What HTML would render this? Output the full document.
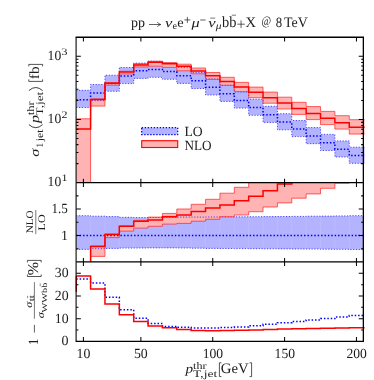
<!DOCTYPE html>
<html><head><meta charset="utf-8"><title>chart</title>
<style>html,body{margin:0;padding:0;background:#fff;}svg{will-change:transform;display:block;font-family:"Liberation Serif",serif;}</style>
</head><body>
<svg width="374" height="380" viewBox="0 0 374 380">
<rect width="374" height="380" fill="#fff"/>
<defs>
<clipPath id="c1"><rect x="76.25" y="37.3" width="288.4" height="145.35"/></clipPath>
<clipPath id="c2"><rect x="76.25" y="182.65" width="287.1" height="79.3"/></clipPath>
<clipPath id="c3"><rect x="75.25" y="261.95" width="289.4" height="79.4"/></clipPath>
</defs>
<g clip-path="url(#c1)">
<path d="M76.21 90.3L90.59 90.3L90.59 84.5L104.96 84.5L104.96 75.2L119.33 75.2L119.33 67.5L133.7 67.5L133.7 63.1L148.07 63.1L148.07 61.2L162.44 61.2L162.44 63.2L176.81 63.2L176.81 67.3L191.18 67.3L191.18 72.4L205.55 72.4L205.55 78.9L219.92 78.9L219.92 85.3L234.3 85.3L234.3 92L248.67 92L248.67 99.2L263.04 99.2L263.04 106.3L277.41 106.3L277.41 113.7L291.78 113.7L291.78 120.5L306.15 120.5L306.15 127.6L320.52 127.6L320.52 134.4L334.89 134.4L334.89 140.9L349.26 140.9L349.26 147.2L364.9 147.2L364.9 163.3L349.26 163.3L349.26 157L334.89 157L334.89 150.5L320.52 150.5L320.52 143.7L306.15 143.7L306.15 136.6L291.78 136.6L291.78 129.8L277.41 129.8L277.41 122.4L263.04 122.4L263.04 115.3L248.67 115.3L248.67 108.1L234.3 108.1L234.3 101.4L219.92 101.4L219.92 95L205.55 95L205.55 88.5L191.18 88.5L191.18 83.4L176.81 83.4L176.81 79.3L162.44 79.3L162.44 77.3L148.07 77.3L148.07 78.4L133.7 78.4L133.7 83.6L119.33 83.6L119.33 91.3L104.96 91.3L104.96 100.6L90.59 100.6L90.59 107.5L76.21 107.5Z" fill="#b3b3ff"/>
<path d="M76.21 118.8L90.59 118.8L90.59 99L104.96 99L104.96 82.6L119.33 82.6L119.33 71.3L133.7 71.3L133.7 64L148.07 64L148.07 61.3L162.44 61.3L162.44 62.6L176.81 62.6L176.81 64.2L191.18 64.2L191.18 68L205.55 68L205.55 72.5L219.92 72.5L219.92 77.3L234.3 77.3L234.3 82.4L248.67 82.4L248.67 87.1L263.04 87.1L263.04 92.1L277.41 92.1L277.41 97.2L291.78 97.2L291.78 102.3L306.15 102.3L306.15 106.6L320.52 106.6L320.52 111.4L334.89 111.4L334.89 115.7L349.26 115.7L349.26 119.7L364.9 119.7L364.9 134.1L349.26 134.1L349.26 129.1L334.89 129.1L334.89 124.6L320.52 124.6L320.52 119.6L306.15 119.6L306.15 114.4L291.78 114.4L291.78 109L277.41 109L277.41 103.2L263.04 103.2L263.04 97.7L248.67 97.7L248.67 91.5L234.3 91.5L234.3 85.3L219.92 85.3L219.92 79.4L205.55 79.4L205.55 73.8L191.18 73.8L191.18 70.8L176.81 70.8L176.81 67.4L162.44 67.4L162.44 66.2L148.07 66.2L148.07 67L133.7 67L133.7 73.9L119.33 73.9L119.33 85.2L104.96 85.2L104.96 106.1L90.59 106.1L90.59 200L76.21 200Z" fill="#ffb3b3"/>
<path d="M76.21 90.3L90.59 90.3L90.59 84.5L104.96 84.5L104.96 75.2L119.33 75.2L119.33 67.5L133.7 67.5L133.7 63.1L148.07 63.1L148.07 61.2L162.44 61.2L162.44 63.2L176.81 63.2L176.81 67.3L191.18 67.3L191.18 72.4L205.55 72.4L205.55 78.9L219.92 78.9L219.92 85.3L234.3 85.3L234.3 92L248.67 92L248.67 99.2L263.04 99.2L263.04 106.3L277.41 106.3L277.41 113.7L291.78 113.7L291.78 120.5L306.15 120.5L306.15 127.6L320.52 127.6L320.52 134.4L334.89 134.4L334.89 140.9L349.26 140.9L349.26 147.2L364.9 147.2" fill="none" stroke="#2222ff" stroke-width="0.8" stroke-dasharray="1.2 1.6"/>
<path d="M76.21 107.5L90.59 107.5L90.59 100.6L104.96 100.6L104.96 91.3L119.33 91.3L119.33 83.6L133.7 83.6L133.7 78.4L148.07 78.4L148.07 77.3L162.44 77.3L162.44 79.3L176.81 79.3L176.81 83.4L191.18 83.4L191.18 88.5L205.55 88.5L205.55 95L219.92 95L219.92 101.4L234.3 101.4L234.3 108.1L248.67 108.1L248.67 115.3L263.04 115.3L263.04 122.4L277.41 122.4L277.41 129.8L291.78 129.8L291.78 136.6L306.15 136.6L306.15 143.7L320.52 143.7L320.52 150.5L334.89 150.5L334.89 157L349.26 157L349.26 163.3L364.9 163.3" fill="none" stroke="#2222ff" stroke-width="0.8" stroke-dasharray="1.2 1.6"/>
<path d="M76.21 99.7L90.59 99.7L90.59 92.9L104.96 92.9L104.96 83.6L119.33 83.6L119.33 75.9L133.7 75.9L133.7 70.7L148.07 70.7L148.07 69.6L162.44 69.6L162.44 71.6L176.81 71.6L176.81 75.7L191.18 75.7L191.18 80.8L205.55 80.8L205.55 87.3L219.92 87.3L219.92 93.7L234.3 93.7L234.3 100.4L248.67 100.4L248.67 107.6L263.04 107.6L263.04 114.7L277.41 114.7L277.41 122.1L291.78 122.1L291.78 128.9L306.15 128.9L306.15 136L320.52 136L320.52 142.8L334.89 142.8L334.89 149.3L349.26 149.3L349.26 155.6L364.9 155.6" fill="none" stroke="#0000ff" stroke-width="1.5" stroke-dasharray="1.5 1.9"/>
<path d="M76.21 118.8L90.59 118.8L90.59 99L104.96 99L104.96 82.6L119.33 82.6L119.33 71.3L133.7 71.3L133.7 64L148.07 64L148.07 61.3L162.44 61.3L162.44 62.6L176.81 62.6L176.81 64.2L191.18 64.2L191.18 68L205.55 68L205.55 72.5L219.92 72.5L219.92 77.3L234.3 77.3L234.3 82.4L248.67 82.4L248.67 87.1L263.04 87.1L263.04 92.1L277.41 92.1L277.41 97.2L291.78 97.2L291.78 102.3L306.15 102.3L306.15 106.6L320.52 106.6L320.52 111.4L334.89 111.4L334.89 115.7L349.26 115.7L349.26 119.7L364.9 119.7" fill="none" stroke="#ff2222" stroke-width="0.7"/>
<path d="M76.21 200L90.59 200L90.59 106.1L104.96 106.1L104.96 85.2L119.33 85.2L119.33 73.9L133.7 73.9L133.7 67L148.07 67L148.07 66.2L162.44 66.2L162.44 67.4L176.81 67.4L176.81 70.8L191.18 70.8L191.18 73.8L205.55 73.8L205.55 79.4L219.92 79.4L219.92 85.3L234.3 85.3L234.3 91.5L248.67 91.5L248.67 97.7L263.04 97.7L263.04 103.2L277.41 103.2L277.41 109L291.78 109L291.78 114.4L306.15 114.4L306.15 119.6L320.52 119.6L320.52 124.6L334.89 124.6L334.89 129.1L349.26 129.1L349.26 134.1L364.9 134.1" fill="none" stroke="#ff2222" stroke-width="0.7"/>
<path d="M76.21 129L90.59 129L90.59 99.6L104.96 99.6L104.96 83.2L119.33 83.2L119.33 71.9L133.7 71.9L133.7 65.1L148.07 65.1L148.07 62.3L162.44 62.3L162.44 63.8L176.81 63.8L176.81 66.3L191.18 66.3L191.18 71L205.55 71L205.55 75.8L219.92 75.8L219.92 81.4L234.3 81.4L234.3 87L248.67 87L248.67 92.3L263.04 92.3L263.04 97.7L277.41 97.7L277.41 103.1L291.78 103.1L291.78 108.5L306.15 108.5L306.15 113.4L320.52 113.4L320.52 118.2L334.89 118.2L334.89 122.7L349.26 122.7L349.26 127.2L364.9 127.2" fill="none" stroke="#ff0000" stroke-width="1.5" stroke-linejoin="miter"/>
</g>
<g clip-path="url(#c2)">
<path d="M76.21 215.7L90.59 215.7L90.59 216.2L104.96 216.2L104.96 216.6L119.33 216.6L119.33 217.3L133.7 217.3L133.7 217.6L148.07 217.6L148.07 217.5L162.44 217.5L162.44 217.3L176.81 217.3L176.81 217.1L191.18 217.1L191.18 217.1L205.55 217.1L205.55 217L219.92 217L219.92 216.9L234.3 216.9L234.3 216.8L248.67 216.8L248.67 216.7L263.04 216.7L263.04 216.6L277.41 216.6L277.41 216.5L291.78 216.5L291.78 216.4L306.15 216.4L306.15 216.2L320.52 216.2L320.52 216.1L334.89 216.1L334.89 215.9L349.26 215.9L349.26 215.7L364.9 215.7L364.9 249.5L349.26 249.5L349.26 249.3L334.89 249.3L334.89 249.2L320.52 249.2L320.52 249.1L306.15 249.1L306.15 249L291.78 249L291.78 248.9L277.41 248.9L277.41 248.8L263.04 248.8L263.04 248.7L248.67 248.7L248.67 248.6L234.3 248.6L234.3 248.5L219.92 248.5L219.92 248.4L205.55 248.4L205.55 248.2L191.18 248.2L191.18 248L176.81 248L176.81 247.9L162.44 247.9L162.44 247.9L148.07 247.9L148.07 248L133.7 248L133.7 248.1L119.33 248.1L119.33 248.4L104.96 248.4L104.96 248.7L90.59 248.7L90.59 249.4L76.21 249.4Z" fill="#b3b3ff"/>
<path d="M90.59 216.7V248.2M104.96 217.1V247.9M119.33 217.8V247.6M133.7 218.1V247.5M148.07 218.0V247.4M162.44 217.8V247.4M176.81 217.6V247.5M191.18 217.6V247.7M205.55 217.5V247.9M219.92 217.4V248.0M234.3 217.3V248.1M248.67 217.2V248.2M263.04 217.1V248.3M277.41 217.0V248.4M291.78 216.9V248.5M306.15 216.7V248.6M320.52 216.6V248.7M334.89 216.4V248.8M349.26 216.2V249.0" stroke="#fff" stroke-opacity="0.22" stroke-width="0.5" fill="none"/>
<path d="M76.21 275L90.59 275L90.59 246L104.96 246L104.96 234L119.33 234L119.33 226L133.7 226L133.7 220.4L148.07 220.4L148.07 217.1L162.44 217.1L162.44 213.4L176.81 213.4L176.81 209L191.18 209L191.18 204.3L205.55 204.3L205.55 199.3L219.92 199.3L219.92 193.2L234.3 193.2L234.3 187.3L248.67 187.3L248.67 170L263.04 170L263.04 170L277.41 170L277.41 170L291.78 170L291.78 170L306.15 170L306.15 170L320.52 170L320.52 170L334.89 170L334.89 170L349.26 170L349.26 170L364.9 170L364.9 178L349.26 178L349.26 183.2L334.89 183.2L334.89 188.3L320.52 188.3L320.52 193.9L306.15 193.9L306.15 198.2L291.78 198.2L291.78 202.9L277.41 202.9L277.41 207L263.04 207L263.04 211.7L248.67 211.7L248.67 215L234.3 215L234.3 216.7L219.92 216.7L219.92 219.3L205.55 219.3L205.55 221.2L191.18 221.2L191.18 223.4L176.81 223.4L176.81 224.1L162.44 224.1L162.44 226.3L148.07 226.3L148.07 228.1L133.7 228.1L133.7 231.1L119.33 231.1L119.33 237.6L104.96 237.6L104.96 256.4L90.59 256.4L90.59 300L76.21 300Z" fill="#ffb3b3"/>
<path d="M76.21 215.7L90.59 215.7L90.59 216.2L104.96 216.2L104.96 216.6L119.33 216.6L119.33 217.3L133.7 217.3L133.7 217.6L148.07 217.6L148.07 217.5L162.44 217.5L162.44 217.3L176.81 217.3L176.81 217.1L191.18 217.1L191.18 217.1L205.55 217.1L205.55 217L219.92 217L219.92 216.9L234.3 216.9L234.3 216.8L248.67 216.8L248.67 216.7L263.04 216.7L263.04 216.6L277.41 216.6L277.41 216.5L291.78 216.5L291.78 216.4L306.15 216.4L306.15 216.2L320.52 216.2L320.52 216.1L334.89 216.1L334.89 215.9L349.26 215.9L349.26 215.7L364.9 215.7" fill="none" stroke="#2222ff" stroke-width="0.8" stroke-dasharray="1.2 1.6"/>
<path d="M76.21 249.4L90.59 249.4L90.59 248.7L104.96 248.7L104.96 248.4L119.33 248.4L119.33 248.1L133.7 248.1L133.7 248L148.07 248L148.07 247.9L162.44 247.9L162.44 247.9L176.81 247.9L176.81 248L191.18 248L191.18 248.2L205.55 248.2L205.55 248.4L219.92 248.4L219.92 248.5L234.3 248.5L234.3 248.6L248.67 248.6L248.67 248.7L263.04 248.7L263.04 248.8L277.41 248.8L277.41 248.9L291.78 248.9L291.78 249L306.15 249L306.15 249.1L320.52 249.1L320.52 249.2L334.89 249.2L334.89 249.3L349.26 249.3L349.26 249.5L364.9 249.5" fill="none" stroke="#2222ff" stroke-width="0.8" stroke-dasharray="1.2 1.6"/>
<path d="M76.25 235.5H363.35" fill="none" stroke="#0000ff" stroke-width="1.5" stroke-dasharray="1.5 1.9"/>
<path d="M76.21 275L90.59 275L90.59 246L104.96 246L104.96 234L119.33 234L119.33 226L133.7 226L133.7 220.4L148.07 220.4L148.07 217.1L162.44 217.1L162.44 213.4L176.81 213.4L176.81 209L191.18 209L191.18 204.3L205.55 204.3L205.55 199.3L219.92 199.3L219.92 193.2L234.3 193.2L234.3 187.3L248.67 187.3L248.67 170L263.04 170L263.04 170L277.41 170L277.41 170L291.78 170L291.78 170L306.15 170L306.15 170L320.52 170L320.52 170L334.89 170L334.89 170L349.26 170L349.26 170L364.9 170" fill="none" stroke="#ff2222" stroke-width="0.7"/>
<path d="M76.21 300L90.59 300L90.59 256.4L104.96 256.4L104.96 237.6L119.33 237.6L119.33 231.1L133.7 231.1L133.7 228.1L148.07 228.1L148.07 226.3L162.44 226.3L162.44 224.1L176.81 224.1L176.81 223.4L191.18 223.4L191.18 221.2L205.55 221.2L205.55 219.3L219.92 219.3L219.92 216.7L234.3 216.7L234.3 215L248.67 215L248.67 211.7L263.04 211.7L263.04 207L277.41 207L277.41 202.9L291.78 202.9L291.78 198.2L306.15 198.2L306.15 193.9L320.52 193.9L320.52 188.3L334.89 188.3L334.89 183.2L349.26 183.2L349.26 178L364.9 178" fill="none" stroke="#ff2222" stroke-width="0.7"/>
<path d="M76.21 300L90.59 300L90.59 246.4L104.96 246.4L104.96 234.5L119.33 234.5L119.33 226.3L133.7 226.3L133.7 221.3L148.07 221.3L148.07 220.1L162.44 220.1L162.44 216.8L176.81 216.8L176.81 215L191.18 215L191.18 211.4L205.55 211.4L205.55 208.1L219.92 208.1L219.92 204.9L234.3 204.9L234.3 200.7L248.67 200.7L248.67 196.2L263.04 196.2L263.04 190.7L277.41 190.7L277.41 184L291.78 184L291.78 176L306.15 176L306.15 170L320.52 170L320.52 170L334.89 170L334.89 170L349.26 170L349.26 170L364.9 170" fill="none" stroke="#ff0000" stroke-width="1.5"/>
</g>
<g clip-path="url(#c3)">
<path d="M76.21 278.9L90.59 278.9L90.59 283.1L104.96 283.1L104.96 297.2L119.33 297.2L119.33 309.8L133.7 309.8L133.7 318.3L148.07 318.3L148.07 323.4L162.44 323.4L162.44 326.4L176.81 326.4L176.81 327.2L191.18 327.2L191.18 327.9L205.55 327.9L205.55 327.9L219.92 327.9L219.92 327.4L234.3 327.4L234.3 327L248.67 327L248.67 325.7L263.04 325.7L263.04 324.3L277.41 324.3L277.41 322.7L291.78 322.7L291.78 321.4L306.15 321.4L306.15 319.9L320.52 319.9L320.52 318.6L334.89 318.6L334.89 317L349.26 317L349.26 315.4L364.9 315.4" fill="none" stroke="#0000ff" stroke-width="1.5" stroke-dasharray="1.5 1.9"/>
<path d="M76.25 292 L76.25 275.9L76.21 275.9L90.59 275.9L90.59 288.9L104.96 288.9L104.96 304L119.33 304L119.33 314.8L133.7 314.8L133.7 321.6L148.07 321.6L148.07 326L162.44 326L162.44 327.8L176.81 327.8L176.81 329.5L191.18 329.5L191.18 330.5L205.55 330.5L205.55 330.7L219.92 330.7L219.92 330.5L234.3 330.5L234.3 330.3L248.67 330.3L248.67 330L263.04 330L263.04 329.6L277.41 329.6L277.41 329.1L291.78 329.1L291.78 328.7L306.15 328.7L306.15 328.6L320.52 328.6L320.52 328.2L334.89 328.2L334.89 327.9L349.26 327.9L349.26 327.7L364.9 327.7" fill="none" stroke="#ff0000" stroke-width="1.5"/>
</g>
<path d="M75.65 37.3H364.0" stroke="#000" stroke-width="1.4"/>
<path d="M75.65 341.35H364.0" stroke="#000" stroke-width="1.3"/>
<path d="M76.1 37.3V341.35" stroke="#000" stroke-width="1.08"/>
<path d="M363.35 37.3V341.35" stroke="#000" stroke-width="1.3"/>
<path d="M76.25 182.65H363.35M76.25 261.95H363.35" stroke="#000" stroke-width="1.3"/>
<path d="M83.4 37.3v4.3M83.4 178.65v8.3M83.4 258.05v8.0M83.4 341.35v-4.3M140.88 37.3v4.3M140.88 178.65v8.3M140.88 258.05v8.0M140.88 341.35v-4.3M212.74 37.3v4.3M212.74 178.65v8.3M212.74 258.05v8.0M212.74 341.35v-4.3M284.59 37.3v4.3M284.59 178.65v8.3M284.59 258.05v8.0M284.59 341.35v-4.3M356.45 37.3v4.3M356.45 178.65v8.3M356.45 258.05v8.0M356.45 341.35v-4.3M76.25 163.63h2.2M363.35 163.63h-2.2M76.25 152.51h2.2M363.35 152.51h-2.2M76.25 144.62h2.2M363.35 144.62h-2.2M76.25 138.5h2.2M363.35 138.5h-2.2M76.25 133.5h2.2M363.35 133.5h-2.2M76.25 129.27h2.2M363.35 129.27h-2.2M76.25 125.6h2.2M363.35 125.6h-2.2M76.25 122.37h2.2M363.35 122.37h-2.2M76.25 119.48h4.6M363.35 119.48h-4.6M76.25 100.47h2.2M363.35 100.47h-2.2M76.25 89.34h2.2M363.35 89.34h-2.2M76.25 81.45h2.2M363.35 81.45h-2.2M76.25 75.33h2.2M363.35 75.33h-2.2M76.25 70.33h2.2M363.35 70.33h-2.2M76.25 66.1h2.2M363.35 66.1h-2.2M76.25 62.44h2.2M363.35 62.44h-2.2M76.25 59.21h2.2M363.35 59.21h-2.2M76.25 56.32h4.6M363.35 56.32h-4.6M76.25 248.73h2.2M363.35 248.73h-2.2M76.25 235.52h4.6M363.35 235.52h-4.6M76.25 222.3h2.2M363.35 222.3h-2.2M76.25 209.08h4.6M363.35 209.08h-4.6M76.25 195.87h2.2M363.35 195.87h-2.2M76.25 330.01h2.2M363.35 330.01h-2.2M76.25 318.66h4.6M363.35 318.66h-4.6M76.25 307.32h2.2M363.35 307.32h-2.2M76.25 295.98h4.6M363.35 295.98h-4.6M76.25 284.64h2.2M363.35 284.64h-2.2M76.25 273.29h4.6M363.35 273.29h-4.6" stroke="#000" stroke-width="1.02" fill="none"/>
<rect x="141.7" y="127.7" width="36.0" height="6.9" fill="#b3b3ff" stroke="#0000ff" stroke-width="1.3" stroke-dasharray="1.4 1.6"/>
<rect x="141.7" y="140.7" width="36.0" height="6.8" fill="#ffb3b3" stroke="#ff0000" stroke-width="1.1"/>
<g text-rendering="geometricPrecision" font-family="'Liberation Serif', serif" fill="#1c1c1c"><text x="184.5" y="136.1" font-size="14.0" textLength="18.2" lengthAdjust="spacingAndGlyphs" >LO</text><text x="184.5" y="149.6" font-size="14.0" textLength="27.1" lengthAdjust="spacingAndGlyphs" >NLO</text><text x="76.5" y="358" font-size="14.0" textLength="13.8" lengthAdjust="spacingAndGlyphs" >10</text><text x="133.98" y="358" font-size="14.0" textLength="13.8" lengthAdjust="spacingAndGlyphs" >50</text><text x="202.74" y="358" font-size="14.0" textLength="20.4" lengthAdjust="spacingAndGlyphs" >100</text><text x="274.59" y="358" font-size="14.0" textLength="20.4" lengthAdjust="spacingAndGlyphs" >150</text><text x="346.45" y="358" font-size="14.0" textLength="20.4" lengthAdjust="spacingAndGlyphs" >200</text><text x="47.6" y="59.9" font-size="14.0" textLength="13.6" lengthAdjust="spacingAndGlyphs" >10</text><text x="61.6" y="54.8" font-size="10.0" textLength="6" lengthAdjust="spacingAndGlyphs" >3</text><text x="47.6" y="122.8" font-size="14.0" textLength="13.6" lengthAdjust="spacingAndGlyphs" >10</text><text x="61.6" y="117.7" font-size="10.0" textLength="6" lengthAdjust="spacingAndGlyphs" >2</text><text x="47.6" y="186.3" font-size="14.0" textLength="13.6" lengthAdjust="spacingAndGlyphs" >10</text><text x="61.6" y="181.2" font-size="10.0" textLength="6" lengthAdjust="spacingAndGlyphs" >1</text><text x="51.6" y="213" font-size="14.0" textLength="16.3" lengthAdjust="spacingAndGlyphs" >1.5</text><text x="60.9" y="239.5" font-size="14.0" textLength="7" lengthAdjust="spacingAndGlyphs" >1</text><text x="54.8" y="276.5" font-size="14.0" textLength="13.8" lengthAdjust="spacingAndGlyphs" >30</text><text x="54.8" y="299.9" font-size="14.0" textLength="13.8" lengthAdjust="spacingAndGlyphs" >20</text><text x="54.8" y="322.7" font-size="14.0" textLength="13.8" lengthAdjust="spacingAndGlyphs" >10</text><text x="61.6" y="345.4" font-size="14.0" textLength="7" lengthAdjust="spacingAndGlyphs" >0</text><text x="131" y="27.3" font-size="14.0" textLength="14" lengthAdjust="spacingAndGlyphs" >pp</text><path d="M149 24.5H160.5M157.4 22.1Q158.4 24 160.8 24.5Q158.4 25 157.4 26.9" fill="none" stroke="#1c1c1c" stroke-width="0.7"/><text x="165" y="27.3" font-size="13.2" textLength="7.4" lengthAdjust="spacingAndGlyphs" font-style="italic" >ν</text><text x="172.4" y="29.4" font-size="10.0" textLength="4.5" lengthAdjust="spacingAndGlyphs" >e</text><text x="177.3" y="27.3" font-size="14.0" textLength="6.4" lengthAdjust="spacingAndGlyphs" >e</text><path d="M184.35 19.9H190.35M187.35 16.9V22.9" fill="none" stroke="#1c1c1c" stroke-width="0.7"/><text x="191.4" y="27.3" font-size="13.2" textLength="8.2" lengthAdjust="spacingAndGlyphs" font-style="italic" >μ</text><path d="M200.2 20H205.6" fill="none" stroke="#1c1c1c" stroke-width="0.7"/><text x="208.2" y="27.3" font-size="13.2" textLength="7.4" lengthAdjust="spacingAndGlyphs" font-style="italic" >ν</text><path d="M210.2 18.1H215.2" fill="none" stroke="#1c1c1c" stroke-width="0.6"/><text x="215.8" y="29.4" font-size="10.0" textLength="5.8" lengthAdjust="spacingAndGlyphs" font-style="italic" >μ</text><text transform="translate(222,27.3) scale(1,1.1)" x="0" y="0" font-size="14.0" textLength="7.2" lengthAdjust="spacingAndGlyphs" >b</text><text transform="translate(229.2,27.3) scale(1,1.1)" x="0" y="0" font-size="14.0" textLength="7.2" lengthAdjust="spacingAndGlyphs" >b</text><path d="M231.8 15.2H236" fill="none" stroke="#1c1c1c" stroke-width="0.6"/><path d="M237.25 24.2H244.85M241.05 20.4V28" fill="none" stroke="#1c1c1c" stroke-width="0.7"/><text x="245.4" y="27.3" font-size="14.5" textLength="10.6" lengthAdjust="spacingAndGlyphs" >X</text><text x="261.4" y="25" font-size="12.6" textLength="9.6" lengthAdjust="spacingAndGlyphs" >@</text><text x="275.8" y="27.3" font-size="14.2" textLength="6.4" lengthAdjust="spacingAndGlyphs" >8</text><text x="284" y="27.3" font-size="14.5" textLength="23.8" lengthAdjust="spacingAndGlyphs" >TeV</text><text x="185.6" y="373.3" font-size="13.2" textLength="7.6" lengthAdjust="spacingAndGlyphs" font-style="italic" >p</text><text x="193.1" y="369.4" font-size="10.0" textLength="13.4" lengthAdjust="spacingAndGlyphs" >thr</text><text x="193.1" y="376.5" font-size="10.0" textLength="24.1" lengthAdjust="spacingAndGlyphs" >T,jet</text><path d="M221.4 362.8H219.4V376.6H221.4" fill="none" stroke="#1c1c1c" stroke-width="0.75"/><text x="220.8" y="373.3" font-size="14.5" textLength="27.9" lengthAdjust="spacingAndGlyphs" >GeV</text><path d="M249.6 362.8H251.6V376.6H249.6" fill="none" stroke="#1c1c1c" stroke-width="0.75"/><g transform="translate(39.3,156.8) rotate(-90)"><text x="0" y="0" font-size="13.2" textLength="8" lengthAdjust="spacingAndGlyphs" font-style="italic" >σ</text><text x="9.2" y="3.3" font-size="10.0" textLength="4.6" lengthAdjust="spacingAndGlyphs" >1</text><text x="15.5" y="3.3" font-size="10.0" textLength="11.7" lengthAdjust="spacingAndGlyphs" >jet</text><path d="M32.2 -10.4Q26 -3.55 32.2 3.3" fill="none" stroke="#1c1c1c" stroke-width="0.85"/><text x="33.8" y="0" font-size="13.2" textLength="8" lengthAdjust="spacingAndGlyphs" font-style="italic" >p</text><text x="41.5" y="-5.4" font-size="10.0" textLength="13.9" lengthAdjust="spacingAndGlyphs" >thr</text><text x="41.4" y="3.3" font-size="10.0" textLength="23.6" lengthAdjust="spacingAndGlyphs" >T,jet</text><path d="M66.2 -10.4Q72.4 -3.55 66.2 3.3" fill="none" stroke="#1c1c1c" stroke-width="0.85"/><path d="M77.4 -10.5H75.4V3.3H77.4" fill="none" stroke="#1c1c1c" stroke-width="0.75"/><text x="77.6" y="0" font-size="14.0" textLength="12.8" lengthAdjust="spacingAndGlyphs" >fb</text><path d="M90.4 -10.5H92.4V3.3H90.4" fill="none" stroke="#1c1c1c" stroke-width="0.75"/></g><g transform="translate(33.3,233.3) rotate(-90)"><text x="0" y="0" font-size="10.0" textLength="23" lengthAdjust="spacingAndGlyphs" >NLO</text></g><g transform="translate(44.5,230.4) rotate(-90)"><text x="0" y="0" font-size="10.0" textLength="16" lengthAdjust="spacingAndGlyphs" >LO</text></g><path d="M35.8 210V234.1" fill="none" stroke="#1c1c1c" stroke-width="0.6"/><g transform="translate(37.9,345.3) rotate(-90)"><text x="0" y="0" font-size="14.0" textLength="6.8" lengthAdjust="spacingAndGlyphs" >1</text></g><path d="M34.4 324.9V332.6" fill="none" stroke="#1c1c1c" stroke-width="0.7"/><g transform="translate(32.0,307.7) rotate(-90)"><text x="0" y="0" font-size="10.0" textLength="6" lengthAdjust="spacingAndGlyphs" font-style="italic" >σ</text><text x="6.4" y="1.8" font-size="7.6" textLength="6.2" lengthAdjust="spacingAndGlyphs" >tt</text></g><path d="M27.6 295.8V298.2" fill="none" stroke="#1c1c1c" stroke-width="0.5"/><g transform="translate(43.5,318.3) rotate(-90)"><text x="0" y="0" font-size="10.0" textLength="6" lengthAdjust="spacingAndGlyphs" font-style="italic" >σ</text><text x="5.8" y="3" font-size="7.6" textLength="29.8" lengthAdjust="spacingAndGlyphs" >WWbb</text></g><path d="M40.2 283.3V286.2" fill="none" stroke="#1c1c1c" stroke-width="0.5"/><path d="M34.4 282.1V318.7" fill="none" stroke="#1c1c1c" stroke-width="0.6"/><g transform="translate(37.9,277.0) rotate(-90)"><path d="M2.5 -10.5H0.5V3.3H2.5" fill="none" stroke="#1c1c1c" stroke-width="0.75"/><text transform="translate(1.8,0) scale(1,1.08)" x="0" y="0" font-size="14.0" textLength="13.4" lengthAdjust="spacingAndGlyphs" >%</text><path d="M14.6 -10.5H16.6V3.3H14.6" fill="none" stroke="#1c1c1c" stroke-width="0.75"/></g></g>
</svg>
</body></html>
